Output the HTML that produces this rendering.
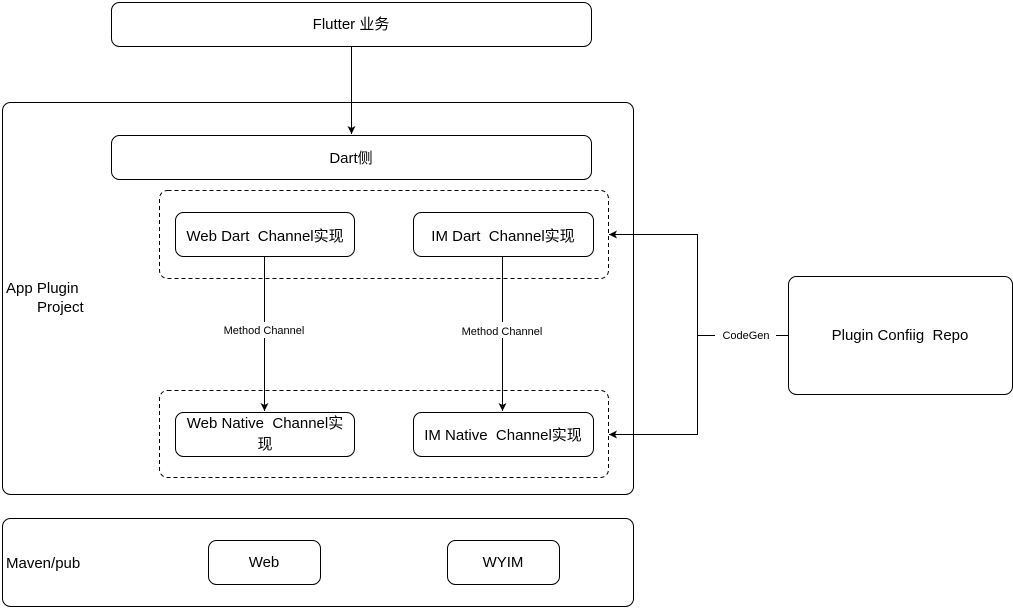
<!DOCTYPE html>
<html><head><meta charset="utf-8"><style>
body{margin:0;background:#fff;}
svg text{font-family:"Liberation Sans","Noto Sans CJK SC",sans-serif;fill:#000;white-space:pre;}
</style></head><body>
<svg width="1013" height="607" viewBox="0 0 1013 607" xmlns="http://www.w3.org/2000/svg" xml:space="preserve">
<defs><marker id="a" markerWidth="10" markerHeight="10" refX="9" refY="5" orient="auto" markerUnits="userSpaceOnUse"><path d="M1,1 L9,5 L1,9 L3,5 Z" fill="#000"/></marker></defs>
<g fill="none" stroke="#000" stroke-width="1">
<rect x="111.5" y="2.5" width="480" height="44" rx="8"/>
<rect x="2.5" y="102.5" width="631" height="392" rx="8"/>
<rect x="111.5" y="135.5" width="480" height="44" rx="8"/>
<rect x="159.5" y="190.5" width="449" height="88" rx="8" stroke-dasharray="4,3"/>
<rect x="175.5" y="212.5" width="179" height="44" rx="8"/>
<rect x="413.5" y="212.5" width="180" height="44" rx="8"/>
<rect x="159.5" y="390.5" width="449" height="87" rx="8" stroke-dasharray="4,3"/>
<rect x="175.5" y="412.5" width="179" height="44" rx="8"/>
<rect x="413.5" y="412.5" width="180" height="44" rx="8"/>
<rect x="788.5" y="276.5" width="224" height="118" rx="8"/>
<rect x="2.5" y="518.5" width="631" height="88" rx="8"/>
<rect x="208.5" y="540.5" width="112" height="44" rx="8"/>
<rect x="447.5" y="540.5" width="112" height="44" rx="8"/>
<line x1="351.5" y1="47" x2="351.5" y2="134" marker-end="url(#a)"/>
<line x1="264.5" y1="257" x2="264.5" y2="322"/>
<line x1="264.5" y1="338" x2="264.5" y2="411" marker-end="url(#a)"/>
<line x1="502.5" y1="257" x2="502.5" y2="322"/>
<line x1="502.5" y1="338" x2="502.5" y2="411" marker-end="url(#a)"/>
<line x1="788" y1="335.5" x2="776" y2="335.5"/>
<line x1="715" y1="335.5" x2="697.5" y2="335.5"/>
<polyline points="697.5,335 697.5,234.5 609,234.5" marker-end="url(#a)"/>
<polyline points="697.5,335 697.5,434.5 609,434.5" marker-end="url(#a)"/>
</g>
<g font-size="15" text-anchor="middle">
<text x="351" y="29">Flutter 业务</text>
<text x="351" y="163">Dart侧</text>
<text x="265" y="241">Web Dart  Channel实现</text>
<text x="503" y="241">IM Dart  Channel实现</text>
<text x="265" y="428">Web Native  Channel实</text>
<text x="265" y="449">现</text>
<text x="503" y="440">IM Native  Channel实现</text>
<text x="900" y="340">Plugin Confiig  Repo</text>
<text x="264" y="567">Web</text>
<text x="503" y="567">WYIM</text>
</g>
<g font-size="15">
<text x="6" y="293">App Plugin</text>
<text x="37" y="312">Project</text>
<text x="6" y="568">Maven/pub</text>
</g>
<g font-size="11" text-anchor="middle">
<text x="264" y="334">Method Channel</text>
<text x="502" y="335">Method Channel</text>
<text x="746" y="339">CodeGen</text>
</g>
</svg>
</body></html>
